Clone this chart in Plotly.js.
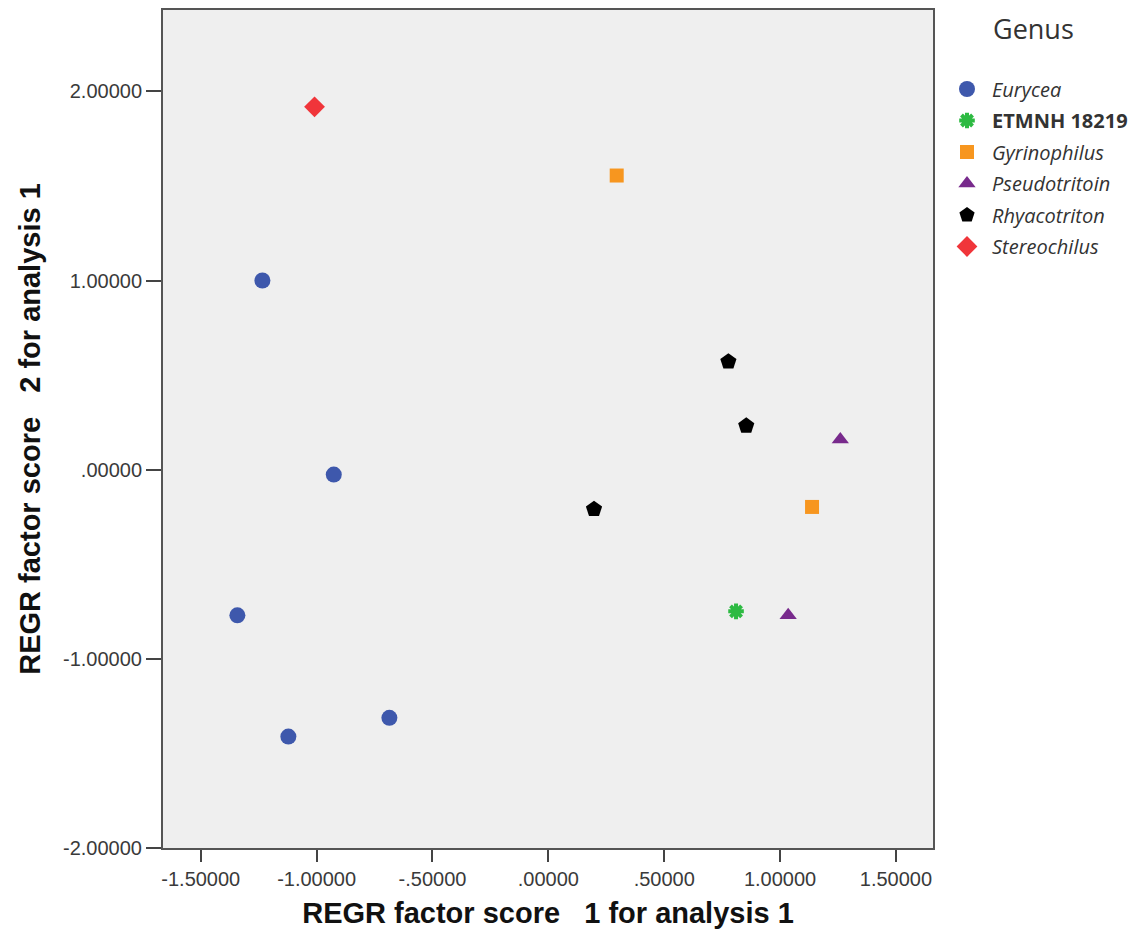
<!DOCTYPE html>
<html>
<head>
<meta charset="utf-8">
<script src="https://cdn.plot.ly/plotly-3.0.1.min.js"></script>
<style>html,body{margin:0;padding:0;background:#fff;}#chart{width:1148px;height:938px;}</style>
</head>
<body>
<div id="chart"></div>
<script>
// ---- data ----
const genera = ["<i>Eurycea</i>", "<b>ETMNH 18219</b>", "<i>Gyrinophilus</i>", "<i>Pseudotritoin</i>", "<i>Rhyacotriton</i>", "<i>Stereochilus</i>"];
const euryceaX = [-1.234, -0.926, -1.342, -1.122, -0.686];
const euryceaY = [1.000, -0.026, -0.770, -1.411, -1.312];
const etmnhX = [0.810];
const etmnhY = [-0.749];
const gyrinophilusX = [0.295, 1.138];
const gyrinophilusY = [1.555, -0.197];
const pseudotritoinX = [1.260, 1.035];
const pseudotritoinY = [0.160, -0.770];
const rhyacotritonX = [0.777, 0.854, 0.197];
const rhyacotritonY = [0.571, 0.232, -0.209];
const stereochilusX = [-1.009];
const stereochilusY = [1.918];
const xTickVals = [-1.5, -1.0, -0.5, 0, 0.5, 1.0, 1.5];
const xTickText = ["-1.50000", "-1.00000", "-.50000", ".00000", ".50000", "1.00000", "1.50000"];
const yTickVals = [-2, -1, 0, 1, 2];
const yTickText = ["-2.00000", "-1.00000", ".00000", "1.00000", "2.00000"];

const xs = [euryceaX, etmnhX, gyrinophilusX, pseudotritoinX, rhyacotritonX, stereochilusX];
const ys = [euryceaY, etmnhY, gyrinophilusY, pseudotritoinY, rhyacotritonY, stereochilusY];
const colors = ["#3E58AC", "#2DBA42", "#F7961F", "#782A8C", "#000000", "#F0353A"];
const symbols = ["circle", "asterisk-open", "square", "triangle-up", "pentagon", "diamond"];
const sizes = [16, 13, 14, 15, 17, 16];

const traces = genera.map((g, i) => {
  const m = {color: colors[i], symbol: symbols[i], size: sizes[i], line: {width: 0}};
  if (symbols[i] === "asterisk-open") m.line = {color: colors[i], width: 4};
  return {
    type: "scatter", mode: "markers", name: g, x: xs[i], y: ys[i],
    marker: m, legendgroup: "g" + i
  };
});

const axisFont = {family: "Liberation Sans, Arial, sans-serif", size: 20, color: "#3a3a3a"};
const titleFont = {family: "Liberation Sans, Arial, sans-serif", size: 29, color: "#111", weight: "bold"};

const layout = {
  width: 1148, height: 938,
  margin: {l: 163, r: 215, t: 10, b: 90},
  paper_bgcolor: "#ffffff",
  plot_bgcolor: "#efefef",
  showlegend: true,
  xaxis: {
    range: [-1.663, 1.660], tickmode: "array", tickvals: xTickVals, ticktext: xTickText,
    ticks: "outside", ticklen: 12, tickwidth: 2, tickcolor: "#444",
    showline: true, linecolor: "#555", linewidth: 2, mirror: true,
    showgrid: false, zeroline: false, tickfont: axisFont,
    title: {text: "REGR factor score   1 for analysis 1", font: titleFont, standoff: 14}
  },
  yaxis: {
    range: [-2, 2.43], tickmode: "array", tickvals: yTickVals, ticktext: yTickText,
    ticks: "outside", ticklen: 15, tickwidth: 2, tickcolor: "#444",
    showline: true, linecolor: "#555", linewidth: 2, mirror: true,
    showgrid: false, zeroline: false, tickfont: axisFont,
    title: {text: "REGR factor score   2 for analysis 1", font: titleFont, standoff: 14}
  },
  legend: {
    xref: "paper", xanchor: "left", yanchor: "top",
    font: {family: "Open Sans, Noto Sans, sans-serif", size: 20, color: "#333"},
    itemwidth: 40, tracegroupgap: 2.5,
    bgcolor: "rgba(0,0,0,0)"
  },
  annotations: [{
    text: "Genus", xref: "paper", yref: "paper",
    xanchor: "left", yanchor: "bottom", showarrow: false,
    font: {family: "Open Sans, Noto Sans, sans-serif", size: 27, color: "#333"}
  }]
};
// place legend and its title in pixel terms converted to paper fraction
const plotW = 1148 - 163 - 215, plotH = 938 - 10 - 90;
layout.legend.x = (942 - 163) / plotW;
layout.legend.y = (848 - 69.5) / plotH;
layout.annotations[0].x = (991 - 163) / plotW;
layout.annotations[0].y = (848 - 49) / plotH;

Plotly.newPlot("chart", traces, layout, {displayModeBar: false, staticPlot: true});
</script>
</body>
</html>
